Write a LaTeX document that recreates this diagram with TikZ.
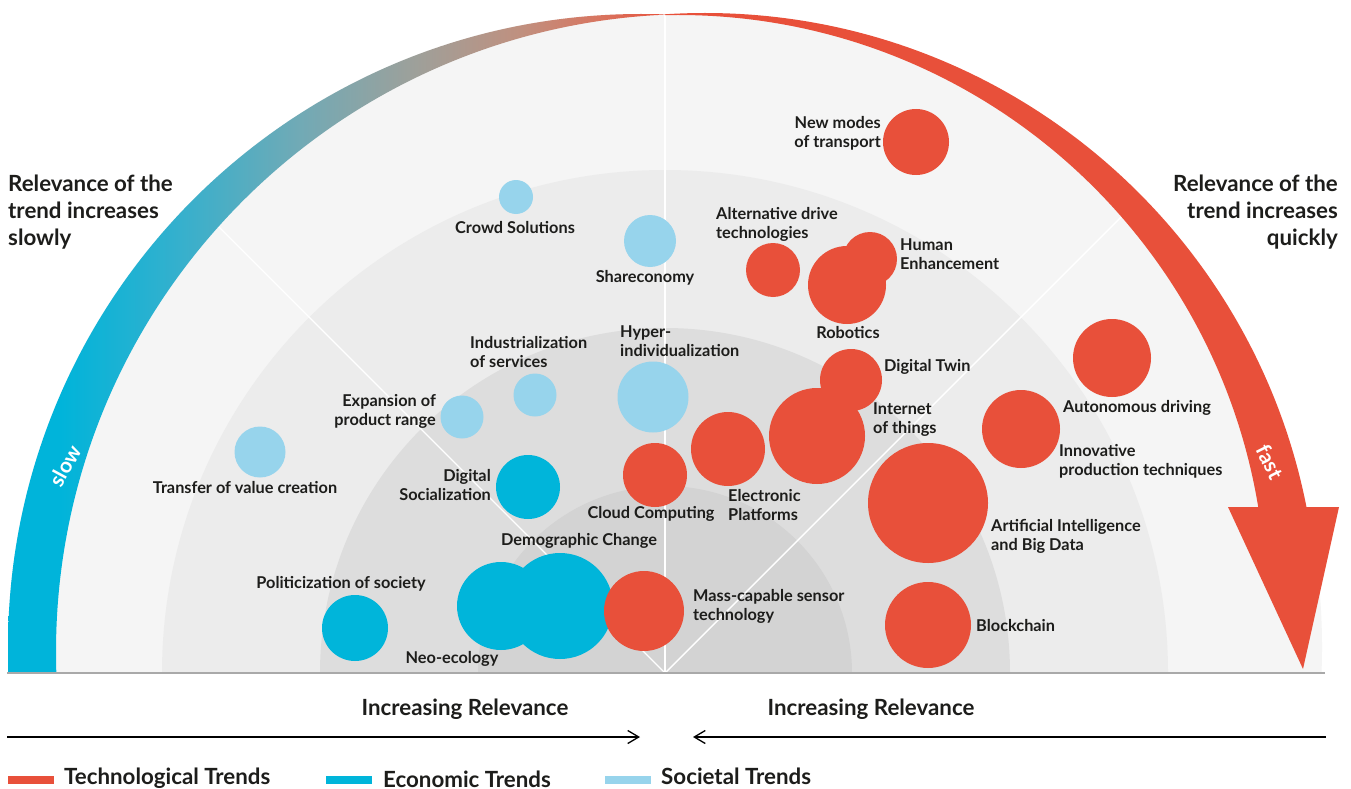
\documentclass[tikz,border=0pt]{standalone}
\usepackage{fontspec}
\setmainfont{Lato}
\usetikzlibrary{arrows.meta}
\definecolor{tred}{HTML}{E8503A}
\definecolor{ecy}{HTML}{00B5DA}
\definecolor{slb}{HTML}{97D4EC}
\definecolor{zA}{HTML}{F5F5F5}
\definecolor{zB}{HTML}{ECECEC}
\definecolor{zC}{HTML}{DDDDDD}
\definecolor{zD}{HTML}{D3D3D3}
\definecolor{txt}{HTML}{1D1D1B}
\definecolor{basegray}{HTML}{A9A9A9}
\definecolor{gA}{HTML}{00B4DA}
\definecolor{gB}{HTML}{35B0CD}
\definecolor{gC}{HTML}{70AAB6}
\definecolor{gD}{HTML}{9EA09A}
\definecolor{gE}{HTML}{C0907F}
\definecolor{gF}{HTML}{D87560}
\definecolor{gG}{HTML}{E8503A}
\pgfdeclarehorizontalshading{bandgrad}{100bp}{color(0bp)=(gA); color(29bp)=(gA); color(38bp)=(gB); color(47bp)=(gC); color(56bp)=(gD); color(64bp)=(gE); color(70bp)=(gF); color(75bp)=(gG); color(100bp)=(gG)}
\begin{document}
\begin{tikzpicture}[x=1pt,y=-1pt,
  tc/.style={circle, fill=tred, inner sep=0pt, outer sep=0pt, minimum size=#1},
  ec/.style={circle, fill=ecy, inner sep=0pt, outer sep=0pt, minimum size=#1},
  sc/.style={circle, fill=slb, inner sep=0pt, outer sep=0pt, minimum size=#1},
  lbl/.style={font=\fontsize{16.3}{19}\selectfont\bfseries, text=txt, inner sep=0pt},
  big/.style={font=\fontsize{22.3}{27}\selectfont\bfseries, text=txt, inner sep=0pt},
  bandtxt/.style={font=\fontsize{21}{24}\selectfont\bfseries, text=white, inner sep=0pt},
  wline/.style={draw=white, line width=1.4pt},
  axisline/.style={draw=black, line width=1.3pt},
]
\useasboundingbox (0,0) rectangle (1351,789);
\fill[white] (0,0) rectangle (1351,789);

% zones
\begin{scope}
  \clip (0,0) rectangle (1351,673);
  \fill[zA] (641,647) circle (633pt);
  \fill[zA] (689,647) circle (633pt);
  \fill[zB] (665,673) circle (503pt);
  \fill[zC] (665,673) circle (345pt);
  \fill[zD] (665,673) circle (187pt);
\end{scope}

% radial white lines
\coordinate (O) at (665,673);
\coordinate (rN) at (665,8);
\coordinate (rL) at (195,203);
\coordinate (rR) at (1135,203);
\draw[wline] (O) -- (rN);
\draw[wline] (O) -- (rL);
\draw[wline] (O) -- (rR);

% left gradient band
\begin{scope}[even odd rule]
  \clip (0,0) rectangle (665.3,673);
  \clip (641,647) circle (633pt) (694,652) circle (638pt);
  \shade[shading=bandgrad] (8,0) rectangle (665.3,673);
\end{scope}
% right red band
\begin{scope}[even odd rule]
  \clip (665,0) rectangle (1351,508);
  \fill[tred] (705,626) circle (613pt) (678,603) circle (588pt);
\end{scope}
\fill[tred] (1228,507) -- (1339,507) -- (1303,669) -- cycle;

\node[bandtxt, rotate=61.5] (slow) at (65,466) {slow};
\node[bandtxt, rotate=-63] (fast) at (1270,462) {fast};

% baseline
\coordinate (bl) at (7,673);
\coordinate (br) at (1325,673);
\draw[basegray, line width=1.2pt] (bl) -- (br);

% economic trends
\node[ec=64pt] (dso) at (528,487) {};
\node[ec=88pt] (neo) at (501,606) {};
\node[ec=106pt] (dem) at (560,606) {};
\node[ec=66pt] (pol) at (355,628) {};
% societal trends
\node[sc=34pt] (crs) at (516,197) {};
\node[sc=52pt] (shr) at (650,241) {};
\node[sc=71pt] (hyp) at (653,397) {};
\node[sc=43pt] (ind) at (535,395) {};
\node[sc=43pt] (exp) at (462,417) {};
\node[sc=51pt] (tvc) at (260,452) {};
% technological trends
\node[tc=66pt] (nmt) at (916,142) {};
\node[tc=54pt] (adt) at (773,270) {};
\node[tc=54pt] (hen) at (870,259) {};
\node[tc=78pt] (rob) at (847,285) {};
\node[tc=62pt] (dtw) at (851,380) {};
\node[tc=96pt] (iot) at (817,436) {};
\node[tc=74pt] (elp) at (728,449) {};
\node[tc=64pt] (clc) at (655,475) {};
\node[tc=80pt] (mcs) at (644,611) {};
\node[tc=78pt] (aud) at (1112,358) {};
\node[tc=78pt] (ipt) at (1021,429) {};
\node[tc=120pt] (aib) at (928,503) {};
\node[tc=86pt] (blc) at (928,625) {};

% labels
\node[lbl, anchor=east, align=right] (Lnmt) at (881,133) {New modes\\of transport};
\node[lbl, anchor=west, align=left] (Ladt) at (716,224) {Alternative drive\\technologies};
\node[lbl, anchor=west, align=left] (Lhen) at (900,254) {Human\\Enhancement};
\node[lbl] (Lrob) at (848,333) {Robotics};
\node[lbl, anchor=west] (Ldtw) at (884,367) {Digital Twin};
\node[lbl, anchor=west, align=left] (Liot) at (873,420) {Internet\\of things};
\node[lbl, anchor=west, align=left] (Lelp) at (728,505) {Electronic\\Platforms};
\node[lbl] (Lclc) at (651,514) {Cloud Computing};
\node[lbl, anchor=west, align=left] (Lhyp) at (620,341) {Hyper-\\individualization};
\node[lbl] (Lshr) at (645,278) {Shareconomy};
\node[lbl, anchor=west, align=left] (Lind) at (470,352) {Industrialization\\of services};
\node[lbl, anchor=east, align=right] (Lexp) at (436,411) {Expansion of\\product range};
\node[lbl] (Ltvc) at (245,488) {Transfer of value creation};
\node[lbl, anchor=east, align=right] (Ldso) at (491,485) {Digital\\Socialization};
\node[lbl] (Ldem) at (579,541) {Demographic Change};
\node[lbl] (Lpol) at (341,584) {Politicization of society};
\node[lbl] (Lneo) at (452,659) {Neo-ecology};
\node[lbl, anchor=west, align=left] (Lmcs) at (693,606) {Mass-capable sensor\\technology};
\node[lbl, anchor=west] (Laud) at (1063,408) {Autonomous driving};
\node[lbl, anchor=west, align=left] (Lipt) at (1059,461) {Innovative\\production techniques};
\node[lbl, anchor=west, align=left] (Laib) at (991,536) {Artificial Intelligence\\and Big Data};
\node[lbl, anchor=west] (Lblc) at (976,626) {Blockchain};
\node[lbl] (Lcrs) at (515,228) {Crowd Solutions};

% side texts
\node[big, anchor=west, align=left] (slowtxt) at (8,212) {Relevance of the\\trend increases\\slowly};
\node[big, anchor=east, align=right] (fasttxt) at (1338,212) {Relevance of the\\trend increases\\quickly};

% axis
\node[big] (irl) at (465,709) {Increasing Relevance};
\node[big] (irr) at (871,709) {Increasing Relevance};
\coordinate (a1s) at (7,737);
\coordinate (a1e) at (640,737);
\coordinate (a2s) at (1326,737);
\coordinate (a2e) at (693,737);
\draw[axisline, -{Straight Barb[length=11pt,width=13pt,line width=1.3pt]}] (a1s) -- (a1e);
\draw[axisline, -{Straight Barb[length=11pt,width=13pt,line width=1.3pt]}] (a2s) -- (a2e);

% legend
\fill[tred] (8,776) rectangle (54,784);
\fill[ecy] (326,776) rectangle (372,784);
\fill[slb] (605,776) rectangle (651,784);
\node[big, anchor=base west] (lg1) at (64,784) {Technological Trends};
\node[big, anchor=base west] (lg2) at (383,787) {Economic Trends};
\node[big, anchor=base west] (lg3) at (661,784) {Societal Trends};
\end{tikzpicture}
\end{document}
